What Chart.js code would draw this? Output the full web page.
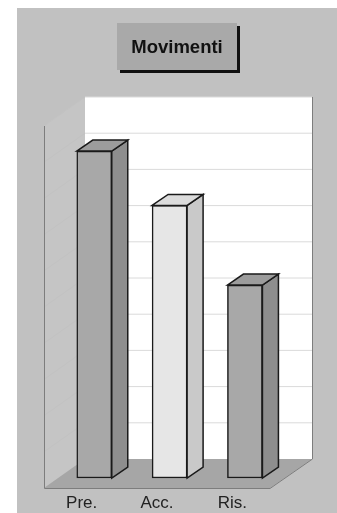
<!DOCTYPE html>
<html>
<head>
<meta charset="utf-8">
<title>Movimenti</title>
<script src="https://cdn.jsdelivr.net/npm/chart.js@4"></script>
<style>
html, body { margin: 0; padding: 0; background: #fff; overflow: hidden; }
#panel { position: absolute; left: 17px; top: 8px; width: 320px; height: 505px; background: #c1c1c1; }
#wrap { position: absolute; left: 0; top: 0; width: 337px; height: 513px; }
#title {
    position: absolute; left: 117px; top: 23px; width: 120px; height: 47px;
    background: #a9a9a9; box-shadow: 3px 3px 0 #111; text-align: center;
    font: bold 18.5px "Liberation Sans", sans-serif; line-height: 47px; color: #111;
}
</style>
</head>
<body>
<div id="panel"></div>
<div id="wrap"><canvas id="myChart" width="337" height="513"></canvas></div>
<div id="title">Movimenti</div>
<script>
const titleText = 'Movimenti';
const categories = ['Pre.', 'Acc.', 'Ris.'];
const values = [90.3, 75.3, 53.3];
const yTicks = [0, 10, 20, 30, 40, 50, 60, 70, 80, 90, 100];

// colori delle facce di ogni barra
const frontColors = ['#a8a8a8', '#e6e6e6', '#a8a8a8'];
const sideColors = ['#8e8e8e', '#c9c9c9', '#8e8e8e'];
const topColors = ['#9c9c9c', '#dcdcdc', '#9c9c9c'];

document.getElementById('title').textContent = titleText;

function poly(ctx, pts, fill, stroke) {
    ctx.beginPath();
    ctx.moveTo(pts[0][0], pts[0][1]);
    for (let i = 1; i < pts.length; i++) {
        ctx.lineTo(pts[i][0], pts[i][1]);
    }
    ctx.closePath();
    if (fill) {
        ctx.fillStyle = fill;
        ctx.fill();
    }
    if (stroke) {
        ctx.strokeStyle = stroke;
        ctx.stroke();
    }
}

// pareti e pavimento, le barre sono spostate verso il centro del pavimento
const barShift = 12.6;
const barDepthX = 16;
const barDepthY = 11;

const box3d = {
    id: 'box3d',
    beforeDatasetsDraw(chart) {
        const ctx = chart.ctx;
        const a = chart.chartArea;
        const y = chart.scales.y;
        const frontBottom = a.bottom + 10;
        const backBottom = a.bottom - 19;
        const frontTop = a.top + 10;
        const backTop = a.top - 19;
        const backLeft = a.left + 41;
        const backRight = a.right + 42;

        ctx.save();
        ctx.lineWidth = 1;
        // parete sinistra
        poly(ctx, [[a.left, frontTop], [backLeft, backTop], [backLeft, backBottom], [a.left, frontBottom]], '#c5c5c5');
        // parete di fondo
        poly(ctx, [[backLeft, backTop], [backRight, backTop], [backRight, backBottom], [backLeft, backBottom]], '#ffffff');
        // griglia
        yTicks.forEach(function (t) {
            const p = y.getPixelForValue(t);
            if (t > 0) {
                ctx.strokeStyle = '#dadada';
                ctx.beginPath();
                ctx.moveTo(backLeft, p - 19);
                ctx.lineTo(backRight, p - 19);
                ctx.stroke();
                ctx.strokeStyle = '#c2c2c2';
                ctx.beginPath();
                ctx.moveTo(a.left, p + 10);
                ctx.lineTo(backLeft, p - 19);
                ctx.stroke();
            }
        });
        // pavimento
        poly(ctx, [[a.left, frontBottom], [a.right, frontBottom], [backRight, backBottom], [backLeft, backBottom]], '#a6a6a6');
        // bordi
        ctx.strokeStyle = '#7d7d7d';
        ctx.beginPath();
        ctx.moveTo(a.left + 0.5, frontTop);
        ctx.lineTo(a.left + 0.5, frontBottom + 0.5);
        ctx.lineTo(a.right, frontBottom + 0.5);
        ctx.lineTo(backRight + 0.5, backBottom);
        ctx.lineTo(backRight + 0.5, backTop);
        ctx.stroke();
        ctx.restore();

        ctx.save();
        ctx.translate(barShift, 0);
    },
    afterDatasetsDraw(chart) {
        const ctx = chart.ctx;
        const meta = chart.getDatasetMeta(0);
        ctx.lineWidth = 1.5;
        meta.data.forEach(function (bar, i) {
            const l = bar.x - bar.width / 2;
            const r = bar.x + bar.width / 2;
            // faccia laterale e superiore
            poly(ctx, [[r, bar.y], [r + barDepthX, bar.y - barDepthY], [r + barDepthX, bar.base - barDepthY], [r, bar.base]], sideColors[i], '#1a1a1a');
            poly(ctx, [[l, bar.y], [l + barDepthX, bar.y - barDepthY], [r + barDepthX, bar.y - barDepthY], [r, bar.y]], topColors[i], '#1a1a1a');
        });
        ctx.restore();
    }
};

const myChart = new Chart(document.getElementById('myChart'), {
    type: 'bar',
    data: {
        labels: categories,
        datasets: [{
            data: values,
            backgroundColor: frontColors,
            borderColor: '#1a1a1a',
            borderWidth: 1.5,
            borderSkipped: false,
            barThickness: 35,
            clip: false
        }]
    },
    options: {
        responsive: false,
        animation: false,
        layout: { padding: { left: 44, right: 67, top: 116, bottom: 0 } },
        plugins: { legend: { display: false }, tooltip: { enabled: false } },
        scales: {
            x: {
                grid: { display: false },
                border: { display: false },
                afterFit(scale) { scale.height = 35; },
                ticks: {
                    padding: 7,
                    maxRotation: 0,
                    color: '#222',
                    font: { family: '"Liberation Sans", sans-serif', size: 17 }
                }
            },
            y: {
                min: 0,
                max: 100,
                grid: { display: false },
                border: { display: false },
                afterFit(scale) { scale.width = 0; },
                ticks: { display: false, stepSize: 10 }
            }
        }
    },
    plugins: [box3d]
});
</script>
</body>
</html>
